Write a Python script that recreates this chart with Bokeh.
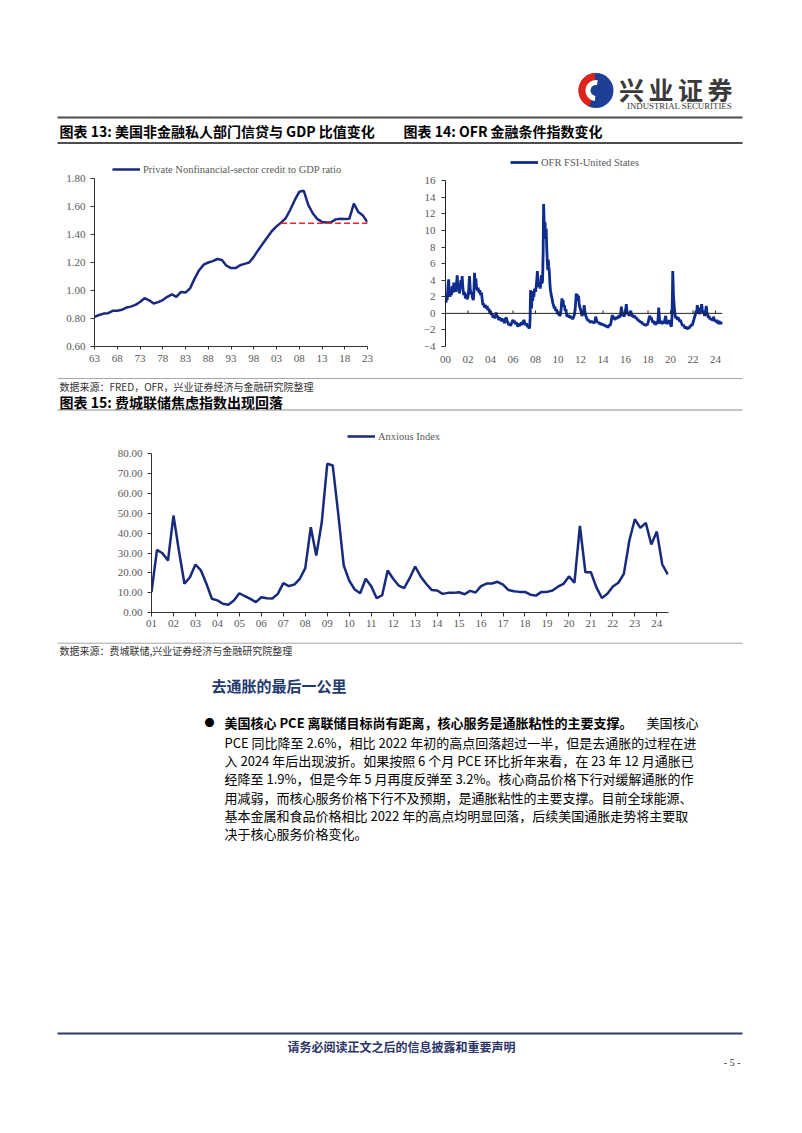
from bokeh.plotting import figure
from bokeh.layouts import column, row
from bokeh.models import Range1d, FixedTicker, Span, NumeralTickFormatter
from bokeh.core.properties import value
from bokeh.embed import file_html
from bokeh.resources import INLINE

# ---------------- data ----------------
# Chart 13: private nonfinancial-sector credit to GDP ratio (annual)
credit_year = list(range(1963, 2024))
credit_ratio = [0.812, 0.825, 0.835, 0.838, 0.855, 0.855, 0.862, 0.878, 0.885, 0.897,
                0.918, 0.945, 0.930, 0.907, 0.917, 0.932, 0.955, 0.972, 0.955, 0.990,
                0.985, 1.015, 1.085, 1.145, 1.185, 1.200, 1.210, 1.225, 1.218, 1.177,
                1.160, 1.160, 1.180, 1.190, 1.200, 1.240, 1.290, 1.335, 1.380, 1.425,
                1.458, 1.485, 1.515, 1.575, 1.645, 1.705, 1.712, 1.610, 1.550, 1.510,
                1.490, 1.485, 1.487, 1.508, 1.512, 1.510, 1.512, 1.620, 1.560, 1.535,
                1.487]
credit_ref_year = [2004, 2023]
credit_ref_level = [1.48, 1.48]
credit_yticks = [0.6, 0.8, 1.0, 1.2, 1.4, 1.6, 1.8]
credit_xticks = [1963, 1968, 1973, 1978, 1983, 1988, 1993, 1998, 2003, 2008, 2013, 2018, 2023]
credit_xlabels = ["63", "68", "73", "78", "83", "88", "93", "98", "03", "08", "13", "18", "23"]
credit_legend = "Private Nonfinancial-sector credit to GDP ratio"

# Chart 14: OFR FSI - United States (year, value)
fsi_2000s = [
    (2000.00, 2.1), (2000.05, 1.3), (2000.10, 2.4), (2000.15, 1.6), (2000.22, 3.2), (2000.28, 4.1),
    (2000.33, 2.6), (2000.40, 2.0), (2000.47, 2.9), (2000.53, 2.2), (2000.60, 3.3), (2000.67, 2.5),
    (2000.74, 3.7), (2000.80, 2.8), (2000.87, 3.4), (2000.93, 2.6), (2001.00, 3.9), (2001.04, 4.6),
    (2001.10, 3.0), (2001.17, 3.6), (2001.23, 2.4), (2001.30, 3.1), (2001.37, 4.0), (2001.43, 3.2),
    (2001.48, 4.5), (2001.55, 3.0), (2001.62, 2.2), (2001.70, 2.6), (2001.77, 1.8), (2001.85, 2.3),
    (2001.92, 1.7), (2002.00, 2.0), (2002.07, 3.0), (2002.13, 4.5), (2002.20, 2.9), (2002.27, 2.3),
    (2002.33, 2.6), (2002.40, 1.9), (2002.47, 1.6), (2002.52, 2.4), (2002.58, 4.9), (2002.63, 3.6),
    (2002.70, 4.2), (2002.77, 3.0), (2002.83, 2.8), (2002.90, 3.1), (2002.97, 2.5), (2003.05, 2.8),
    (2003.12, 2.2), (2003.20, 2.5), (2003.27, 1.6), (2003.33, 1.0), (2003.40, 1.2), (2003.47, 0.7),
    (2003.55, 1.0), (2003.62, 0.6), (2003.70, 0.9), (2003.77, 0.4), (2003.85, 0.6), (2003.92, 0.1),
    (2004.00, 0.3), (2004.08, -0.2), (2004.15, 0.0), (2004.22, -0.5), (2004.30, -0.3), (2004.37, -0.6),
    (2004.45, -0.2), (2004.50, 0.1), (2004.57, -0.5), (2004.65, -0.3), (2004.72, -0.8), (2004.80, -0.5),
    (2004.87, -0.7), (2004.95, -0.9), (2005.03, -0.6), (2005.10, -1.0), (2005.18, -0.8), (2005.25, -1.2),
    (2005.32, -0.7), (2005.40, -0.5), (2005.47, -0.9), (2005.55, -1.1), (2005.62, -1.4), (2005.70, -1.2),
    (2005.77, -1.5), (2005.85, -1.3), (2005.92, -1.0), (2006.00, -0.8), (2006.07, -1.1), (2006.15, -0.9),
    (2006.22, -1.3), (2006.30, -1.1), (2006.37, -1.4), (2006.45, -1.6), (2006.52, -1.2), (2006.60, -1.5),
    (2006.67, -1.3), (2006.75, -1.1), (2006.82, -1.4), (2006.90, -1.0), (2006.97, -0.8), (2007.05, -1.2),
    (2007.12, -1.4), (2007.20, -1.2), (2007.27, -1.6), (2007.35, -1.5), (2007.42, -1.8), (2007.48, -1.7),
    (2007.52, -0.6), (2007.56, 2.8), (2007.60, 1.6), (2007.65, 0.6), (2007.70, 2.4), (2007.75, 1.5),
    (2007.80, 2.7), (2007.85, 2.0), (2007.92, 3.0), (2008.00, 2.6), (2008.07, 3.3), (2008.12, 4.2),
    (2008.17, 5.1), (2008.22, 3.8), (2008.28, 3.2), (2008.35, 3.6), (2008.42, 3.0), (2008.48, 3.9),
    (2008.53, 4.6), (2008.58, 3.6), (2008.63, 4.0), (2008.68, 7.5), (2008.72, 13.2), (2008.76, 11.5),
    (2008.80, 9.5), (2008.85, 11.0), (2008.90, 9.0), (2008.95, 10.2), (2009.00, 7.8), (2009.05, 6.2),
    (2009.09, 5.2), (2009.13, 6.5), (2009.18, 5.6), (2009.23, 5.0), (2009.28, 3.6), (2009.33, 2.8),
    (2009.40, 2.2), (2009.47, 1.8), (2009.53, 1.3), (2009.60, 1.0), (2009.67, 0.6), (2009.73, 0.8),
    (2009.80, 0.3), (2009.87, 0.5), (2009.93, 0.1),
]
fsi_2010s = [
    (2010.00, -0.1), (2010.07, 0.2), (2010.13, -0.3), (2010.20, -0.2), (2010.27, 0.4), (2010.35, 1.8),
    (2010.40, 1.3), (2010.45, 1.6), (2010.50, 0.8), (2010.57, 1.0), (2010.63, 0.3), (2010.70, 0.5),
    (2010.77, -0.2), (2010.85, -0.4), (2010.92, -0.2), (2011.00, -0.5), (2011.07, -0.3), (2011.15, -0.6),
    (2011.22, -0.4), (2011.30, -0.7), (2011.37, -0.5), (2011.45, -0.2), (2011.52, 0.4), (2011.58, 1.5),
    (2011.62, 2.4), (2011.67, 1.8), (2011.72, 2.3), (2011.78, 1.5), (2011.83, 2.1), (2011.88, 1.2),
    (2011.93, 0.8), (2012.00, 0.5), (2012.07, 0.1), (2012.13, -0.3), (2012.20, -0.1), (2012.27, 0.2),
    (2012.33, 1.0), (2012.38, 0.3), (2012.45, -0.2), (2012.52, -0.5), (2012.60, -0.7), (2012.67, -0.9),
    (2012.75, -0.8), (2012.82, -1.0), (2012.90, -1.1), (2012.97, -0.9), (2013.05, -1.1), (2013.12, -1.0),
    (2013.20, -1.2), (2013.27, -1.0), (2013.35, -0.4), (2013.42, -0.8), (2013.50, -1.1), (2013.57, -1.0),
    (2013.65, -1.3), (2013.72, -1.1), (2013.80, -1.4), (2013.87, -1.2), (2013.95, -1.4), (2014.03, -1.3),
    (2014.10, -1.5), (2014.18, -1.4), (2014.25, -1.6), (2014.33, -1.5), (2014.40, -1.7), (2014.48, -1.6),
    (2014.55, -1.4), (2014.62, -1.5), (2014.70, -1.2), (2014.77, -0.6), (2014.83, -0.2), (2014.90, -0.6),
    (2014.97, -0.4), (2015.05, -0.8), (2015.12, -0.5), (2015.20, -0.7), (2015.27, -0.4), (2015.35, -0.6),
    (2015.42, -0.2), (2015.50, -0.5), (2015.57, -0.1), (2015.63, 0.8), (2015.68, 0.2), (2015.75, -0.3),
    (2015.82, 0.0), (2015.88, -0.4), (2015.95, 0.2), (2016.02, 0.5), (2016.07, 1.1), (2016.12, 0.4),
    (2016.18, -0.1), (2016.25, 0.0), (2016.32, -0.3), (2016.40, 0.1), (2016.47, 0.3), (2016.53, -0.1),
    (2016.60, -0.4), (2016.67, -0.2), (2016.75, -0.5), (2016.82, -0.3), (2016.90, -0.6), (2016.97, -0.5),
    (2017.05, -0.8), (2017.12, -0.7), (2017.20, -1.0), (2017.27, -0.9), (2017.35, -1.1), (2017.42, -1.0),
    (2017.50, -1.3), (2017.57, -1.2), (2017.65, -1.4), (2017.72, -1.3), (2017.80, -1.5), (2017.87, -1.3),
    (2017.95, -1.4), (2018.03, -1.0), (2018.10, -0.5), (2018.17, -0.3), (2018.23, -0.7), (2018.30, -0.5),
    (2018.37, -0.9), (2018.43, -1.1), (2018.50, -0.9), (2018.57, -1.3), (2018.63, -1.1), (2018.70, -1.4),
    (2018.77, -1.0), (2018.83, -1.3), (2018.90, -0.6), (2018.95, 0.7), (2019.00, -0.3), (2019.05, -1.0),
    (2019.12, -1.2), (2019.20, -0.9), (2019.27, -1.3), (2019.35, -1.0), (2019.42, -1.2), (2019.50, -0.8),
    (2019.57, -0.3), (2019.62, -0.9), (2019.68, -1.3), (2019.75, -0.9), (2019.82, -1.2), (2019.88, -0.8),
    (2019.95, -1.2),
]
fsi_2020s = [
    (2020.02, -1.4), (2020.08, -1.6), (2020.13, -0.5), (2020.18, 3.0), (2020.20, 5.1), (2020.23, 3.8),
    (2020.27, 2.0), (2020.32, 1.0), (2020.37, 0.3), (2020.42, -0.3), (2020.48, -0.6), (2020.55, -0.4),
    (2020.62, -0.8), (2020.68, -0.5), (2020.75, -0.7), (2020.82, -1.0), (2020.88, -0.8), (2020.95, -1.1),
    (2021.02, -1.3), (2021.08, -1.5), (2021.15, -1.4), (2021.22, -1.6), (2021.30, -1.8), (2021.37, -1.6),
    (2021.45, -1.8), (2021.52, -1.9), (2021.60, -1.7), (2021.67, -1.8), (2021.73, -1.5), (2021.80, -1.6),
    (2021.87, -1.3), (2021.93, -1.5), (2022.00, -1.1), (2022.07, -0.8), (2022.13, -0.5), (2022.20, -0.2),
    (2022.27, 0.3), (2022.33, 0.0), (2022.38, 1.0), (2022.43, 0.4), (2022.50, 0.7), (2022.57, -0.1),
    (2022.63, 0.4), (2022.70, 0.2), (2022.77, 1.1), (2022.82, 0.5), (2022.88, 0.0), (2022.95, 0.3),
    (2023.02, -0.3), (2023.08, -0.1), (2023.13, 0.4), (2023.18, 0.9), (2023.23, 0.2), (2023.30, -0.2),
    (2023.37, -0.5), (2023.43, -0.3), (2023.50, -0.7), (2023.57, -0.6), (2023.63, -0.8), (2023.70, -0.7),
    (2023.77, -0.9), (2023.83, -0.4), (2023.90, -0.8), (2023.97, -0.9), (2024.05, -1.0), (2024.12, -0.8),
    (2024.18, -1.1), (2024.25, -1.2), (2024.32, -0.9), (2024.38, -1.3), (2024.45, -1.1), (2024.52, -1.2),
    (2024.58, -1.1), (2024.62, -1.3),
]
fsi_yticks = [-4, -2, 0, 2, 4, 6, 8, 10, 12, 14, 16]
fsi_xticks = [2000, 2002, 2004, 2006, 2008, 2010, 2012, 2014, 2016, 2018, 2020, 2022, 2024]
fsi_xlabels = ["00", "02", "04", "06", "08", "10", "12", "14", "16", "18", "20", "22", "24"]
fsi_legend = "OFR FSI-United States"

# Chart 15: Philadelphia Fed Anxious Index (quarterly, from 2001Q1)
anx_start = 2001
anx_value = [10.3, 31.6, 29.9, 26.2, 48.9, 31.0, 14.5, 17.8, 24.2, 21.2,
             14.5, 6.9, 6.1, 4.4, 3.9, 6.1, 9.7, 8.2, 6.9, 5.2,
             7.7, 7.2, 7.1, 9.4, 14.8, 13.3, 14.1, 17.0, 22.4, 43.0,
             28.7, 45.5, 75.0, 74.1, 49.7, 23.7, 16.1, 11.6, 9.7, 17.0,
             13.3, 7.2, 8.7, 21.2, 17.0, 13.6, 12.3, 17.3, 23.2, 18.2,
             14.5, 11.4, 11.1, 9.4, 9.9, 9.9, 10.2, 9.2, 10.9, 10.1,
             13.3, 14.6, 14.6, 15.5, 14.1, 11.3, 10.7, 10.4, 10.4, 9.0,
             8.5, 10.4, 10.4, 11.1, 13.0, 14.4, 18.2, 15.0, 43.7, 20.3,
             20.3, 12.7, 7.3, 9.4, 13.1, 15.0, 19.5, 36.3, 47.0, 42.7,
             45.2, 34.3, 40.8, 24.2, 19.2]
anx_yticks = [0, 10, 20, 30, 40, 50, 60, 70, 80]
anx_xticks = list(range(2001, 2025))
anx_xlabels = ["01", "02", "03", "04", "05", "06", "07", "08", "09", "10", "11", "12",
               "13", "14", "15", "16", "17", "18", "19", "20", "21", "22", "23", "24"]
anx_legend = "Anxious Index"

# texts
title13 = "图表 13: 美国非金融私人部门信贷与 GDP 比值变化"
title14 = "图表 14: OFR 金融条件指数变化"
title15 = "图表 15: 费城联储焦虑指数出现回落"
source1 = "数据来源：FRED，OFR，兴业证券经济与金融研究院整理"
source2 = "数据来源：费城联储,兴业证券经济与金融研究院整理"
heading = "去通胀的最后一公里"
para_bold = "美国核心 PCE 离联储目标尚有距离，核心服务是通胀粘性的主要支撑。"
para_lines = [
    "美国核心",
    "PCE 同比降至 2.6%，相比 2022 年初的高点回落超过一半，但是去通胀的过程在进",
    "入 2024 年后出现波折。如果按照 6 个月 PCE 环比折年来看，在 23 年 12 月通胀已",
    "经降至 1.9%，但是今年 5 月再度反弹至 3.2%。核心商品价格下行对缓解通胀的作",
    "用减弱，而核心服务价格下行不及预期，是通胀粘性的主要支撑。目前全球能源、",
    "基本金属和食品价格相比 2022 年的高点均明显回落，后续美国通胀走势将主要取",
    "决于核心服务价格变化。",
]
footer = "请务必阅读正文之后的信息披露和重要声明"
page_no = "- 5 -"

CJK = "Noto Sans CJK SC"
SERIF = "Liberation Serif"


# ---------------- helpers ----------------
def no_align(p):
    try:
        p.frame_align = False
    except Exception:
        pass


def deco(h):
    p = figure(width=802, height=h, x_range=Range1d(0, 802), y_range=Range1d(h, 0),
               output_backend="svg", toolbar_location=None, min_border=0,
               x_axis_type=None, y_axis_type=None)
    p.outline_line_color = None
    p.background_fill_color = "white"
    p.border_fill_color = "white"
    no_align(p)
    return p


def txt(p, x, y, s, size, color="#000000", bold=False, font=CJK, align="left"):
    p.text(x=[x], y=[y], text=[s], text_font=value(font), text_font_size=value(f"{size}px"),
           text_font_style="bold" if bold else "normal", text_color=color,
           text_align=align, text_baseline="middle")


def hline(p, x0, x1, y, color, w):
    p.segment(x0=[x0], y0=[y], x1=[x1], y1=[y], line_color=color, line_width=w)


def chart(w, h, xr, yr, left, right, top, bottom):
    p = figure(width=w, height=h, x_range=Range1d(*xr), y_range=Range1d(*yr),
               output_backend="svg", toolbar_location=None,
               min_border_left=left, min_border_right=right,
               min_border_top=top, min_border_bottom=bottom)
    p.outline_line_color = None
    p.xgrid.visible = False
    p.ygrid.visible = False
    p.background_fill_color = "white"
    p.border_fill_color = "white"
    no_align(p)
    for ax in (p.xaxis[0], p.yaxis[0]):
        ax.major_label_text_font = SERIF
        ax.major_label_text_font_size = "11px"
        ax.major_label_text_color = "#595959"
        ax.axis_line_color = "#333333"
        ax.major_tick_line_color = "#333333"
        ax.minor_tick_line_color = None
        ax.major_tick_in = 0
        ax.major_tick_out = 4
    return p


def style_legend(p, loc, glyph_w=28):
    lg = p.legend[0]
    lg.location = loc
    lg.border_line_color = None
    lg.background_fill_alpha = 0
    lg.padding = 0
    lg.margin = 0
    lg.spacing = 0
    lg.glyph_width = glyph_w
    lg.glyph_height = 12
    lg.label_height = 12
    lg.label_standoff = 3
    lg.label_text_font = SERIF
    lg.label_text_font_size = "10.5px"
    lg.label_text_color = "#595959"


# ---------------- header (page y 0..145) ----------------
hdr = deco(145)
# logo
hdr.circle(x=[595.5], y=[90], radius=17.5, fill_color="#1d3f95", line_color=None)
hdr.annular_wedge(x=[595.5], y=[90], inner_radius=10.5, outer_radius=17.5,
                  start_angle=1.65, end_angle=4.3, fill_color="#e2231a", line_color=None)
hdr.annular_wedge(x=[595.5], y=[90], inner_radius=5.5, outer_radius=10.5,
                  start_angle=1.4, end_angle=4.6, fill_color="white", line_color=None)
for cx, ch in zip([631, 660.5, 690, 719.5], "兴业证券"):
    txt(hdr, cx, 88, ch, 25, color="#3a3a3a", bold=True, align="center")
txt(hdr, 679, 105, "INDUSTRIAL SECURITIES", 8.8, color="#333333", font=SERIF, align="center")
hline(hdr, 57, 742, 117, "#4d4d4d", 1.8)
txt(hdr, 59, 130, title13, 14, bold=True)
txt(hdr, 403, 130, title14, 14, bold=True)
hline(hdr, 57, 742, 142.5, "#4d4d4d", 1.8)

# ---------------- chart 13 (page y 145..370, x 0..385) ----------------
c13 = chart(385, 225, (1963, 2023), (0.6, 2.0), 94, 18, 5, 24)
c13.line(credit_year, credit_ratio, line_color="#1b2a80", line_width=2.5, legend_label=credit_legend)
c13.line(credit_ref_year, credit_ref_level, line_color="#e8242a", line_width=1.5, line_dash="6 3")
c13.yaxis.ticker = FixedTicker(ticks=credit_yticks)
c13.yaxis.formatter = NumeralTickFormatter(format="0.00")
c13.yaxis.bounds = (0.6, 1.8)
c13.yaxis.major_label_standoff = 5
c13.xaxis.ticker = FixedTicker(ticks=credit_xticks)
c13.xaxis.major_label_overrides = dict(zip(credit_xticks, credit_xlabels))
c13.xaxis.major_tick_out = 3
c13.xaxis.major_label_standoff = 5
style_legend(c13, (18, 171))

# ---------------- chart 14 (page y 145..370, x 385..802) ----------------
fsi_points = fsi_2000s + fsi_2010s + fsi_2020s
fsi_year = [t for t, v in fsi_points]
fsi_value = [v for t, v in fsi_points]
c14 = chart(417, 225, (2000, 2000 + 277 / 11.25), (-4, 19.66), 60, 80, 5, 24)
c14.line(fsi_year, fsi_value, line_color="#0d2c8e", line_width=2.8, legend_label=fsi_legend)
c14.add_layout(Span(location=0, dimension="width", line_color="#222222", line_width=1))
c14.segment(x0=fsi_xticks[1:], y0=[0] * (len(fsi_xticks) - 1), x1=fsi_xticks[1:],
            y1=[0.35] * (len(fsi_xticks) - 1), line_color="#222222", line_width=1)
c14.yaxis.ticker = FixedTicker(ticks=fsi_yticks)
c14.yaxis.bounds = (-4, 16)
c14.yaxis.major_label_standoff = 6
c14.yaxis.axis_line_color = "#222222"
c14.xaxis.ticker = FixedTicker(ticks=fsi_xticks)
c14.xaxis.major_label_overrides = dict(zip(fsi_xticks, fsi_xlabels))
c14.xaxis.axis_line_color = None
c14.xaxis.major_tick_line_color = None
c14.xaxis.major_label_standoff = 5
style_legend(c14, (65, 178))

# ---------------- caption block (page y 370..415) ----------------
cap = deco(45)
hline(cap, 57, 742, 8, "#a6a6a6", 1)
txt(cap, 59, 16, source1, 10, color="#333333")
txt(cap, 59, 31.7, title15, 14, bold=True)
hline(cap, 57, 742, 39.5, "#8c8c8c", 1.2)

# ---------------- chart 15 (page y 415..640) ----------------
anx_date = [anx_start + i / 4 for i in range(len(anx_value))]
c15 = chart(802, 225, (2001, 2001 + 517 / 21.97), (0, 187 / 1.983), 151, 134, 10, 28)
c15.line(anx_date, anx_value, line_color="#172a7c", line_width=2.5, legend_label=anx_legend)
c15.yaxis.ticker = FixedTicker(ticks=anx_yticks)
c15.yaxis.formatter = NumeralTickFormatter(format="0.00")
c15.yaxis.bounds = (0, 80)
c15.yaxis.major_label_standoff = 5
c15.xaxis.ticker = FixedTicker(ticks=anx_xticks)
c15.xaxis.major_label_overrides = dict(zip(anx_xticks, anx_xlabels))
c15.xaxis.major_label_standoff = 3
style_legend(c15, (196, 170))

# ---------------- text block (page y 640..1133) ----------------
body = deco(493)
hline(body, 57, 742, 2.7, "#a6a6a6", 1)
txt(body, 59, 10, source2, 10, color="#333333")
txt(body, 211, 45, heading, 15, color="#1f3a6e", bold=True)
txt(body, 204, 82.3, "●", 10)
line_y = [82.3, 101.7, 120.0, 138.3, 156.7, 175.0, 192.7]
txt(body, 224, line_y[0], para_bold, 13, bold=True)
txt(body, 698, line_y[0], para_lines[0], 13, align="right")
for yy, s in zip(line_y[1:], para_lines[1:]):
    txt(body, 224, yy, s, 13)
hline(body, 57, 742, 393, "#2f3b6b", 2)
txt(body, 401, 405.5, footer, 12, color="#2b3467", bold=True, align="center")
txt(body, 740, 422, page_no, 10, color="#333333", font=SERIF, align="right")

page = column(hdr, row(c13, c14), cap, c15, body)
open("out.html", "w").write(file_html(page, INLINE))
